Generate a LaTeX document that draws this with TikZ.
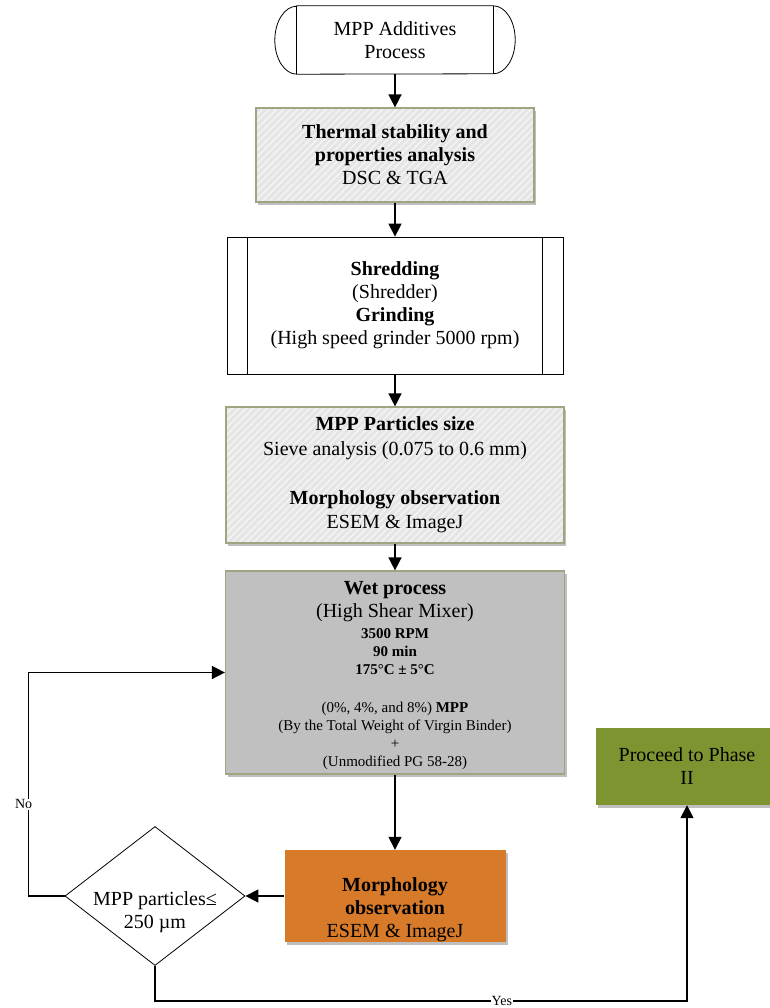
\documentclass[tikz,border=0pt]{standalone}
\usepackage{fontspec}
\setmainfont{Liberation Serif}
\usetikzlibrary{arrows.meta,shapes.geometric,shadows,patterns.meta}

\definecolor{edgeolive}{RGB}{160,164,128}
\definecolor{hatchgray}{RGB}{229,229,229}
\definecolor{hatchline}{RGB}{244,244,244}
\definecolor{wetgray}{RGB}{192,192,192}
\definecolor{morphorange}{RGB}{215,122,42}
\definecolor{phasegreen}{RGB}{126,148,48}

\tikzset{
  txt/.style={font=\fontsize{20}{23}\selectfont, align=center, inner sep=0pt},
  smalltxt/.style={font=\fontsize{15}{18}\selectfont, align=center, inner sep=0pt},
  tag/.style={font=\fontsize{14}{16}\selectfont, fill=white, inner sep=1pt},
  softshadow/.style={drop shadow={shadow xshift=2pt, shadow yshift=-3pt, opacity=0.25, fill=black}},
  hatchbox/.style={rectangle, draw=edgeolive, line width=1.2pt, fill=hatchgray, softshadow,
    postaction={pattern={Lines[angle=45,distance=5pt,line width=1.5pt]}, pattern color=hatchline},
    postaction={draw=edgeolive, line width=1.2pt}},
  plainbox/.style={rectangle, draw=black, line width=0.8pt, fill=white},
  conn/.style={line width=1.5pt, -{Triangle[width=13pt,length=13pt]}},
}

\begin{document}
\begin{tikzpicture}[x=1pt,y=-1pt]
  \fill[white] (0,0) rectangle (770,1008);
  \useasboundingbox (0,0) rectangle (770,1008);

  % start terminator
  \node (term) [txt, minimum width=196pt, minimum height=68pt] at (395,40) {MPP Additives\\Process};
  \draw[line width=0.8pt] (term.north west) -- (term.north east)
    arc[start angle=90, end angle=-90, x radius=22pt, y radius=34pt]
    -- (term.south west)
    arc[start angle=270, end angle=90, x radius=22pt, y radius=34pt] -- cycle;
  \draw[line width=0.8pt] (term.north west) -- (term.south west)
    (term.north east) -- (term.south east);

  % thermal analysis
  \node (prop) [hatchbox, txt, minimum width=278pt, minimum height=94pt] at (395,155)
    {\textbf{Thermal stability and}\\\textbf{properties analysis}\\DSC \& TGA};

  % shredding / grinding (predefined process)
  \node (shred) [plainbox, txt, minimum width=336pt, minimum height=137pt] at (395,305.5)
    {\textbf{Shredding}\\(Shredder)\\\textbf{Grinding}\\(High speed grinder 5000 rpm)};
  \draw[line width=0.8pt] ([xshift=21pt]shred.north west) -- ([xshift=21pt]shred.south west)
    ([xshift=-21pt]shred.north east) -- ([xshift=-21pt]shred.south east);

  % particle size
  \node (sieve) [hatchbox, txt, font=\fontsize{20}{24.5}\selectfont, minimum width=338pt, minimum height=136pt] at (395,475)
    {\textbf{MPP Particles size}\\Sieve analysis (0.075 to 0.6 mm)\\[24.5pt]\textbf{Morphology observation}\\ESEM \& ImageJ};

  % wet process
  \node (wet) [rectangle, draw=edgeolive, line width=1.2pt, fill=wetgray, softshadow,
    minimum width=339pt, minimum height=203pt] at (395,672.5) {};
  \node (wetA) [txt] at (395,602) {\textbf{Wet process}\\(High Shear Mixer)};
  \node (wetB) [smalltxt, font=\fontsize{15}{18}\selectfont\bfseries] at (395,652)
    {3500 RPM\\90 min\\175°C ± 5°C};
  \node (wetC) [smalltxt] at (395,735.5)
    {(0\%, 4\%, and 8\%) \textbf{MPP}\\(By the Total Weight of Virgin Binder)\\+\\(Unmodified PG 58-28)};

  % morphology check
  \node (morph) [rectangle, fill=morphorange, softshadow, minimum width=221pt, minimum height=92pt] at (395,896) {};
  \node (morphtxt) [txt] at (395,910) {\textbf{Morphology}\\\textbf{observation}\\ESEM \& ImageJ};

  % decision
  \node (dia) [diamond, draw=black, line width=0.8pt, fill=white, minimum width=180pt, minimum height=139pt, inner sep=0pt] at (155,896) {};
  \node (diatxt) [txt] at (155,912) {MPP particles≤\\250 µm};

  % next phase
  \node (phase) [rectangle, fill=phasegreen, softshadow, txt, minimum width=182pt, minimum height=77pt] at (687,766.5)
    {Proceed to Phase\\II};

  % connectors
  \draw[conn] (term) -- (prop);
  \draw[conn] (prop) -- (shred);
  \draw[conn] (shred) -- (sieve);
  \draw[conn] (sieve) -- (wet);
  \draw[conn] (wet) -- (morph);
  \draw[conn] (morph.west) -- (dia.east);
  \draw[conn] (dia.west) -- ++(-36,0) |- (wet.west)
    node[tag, pos=0.205, xshift=-5pt] {No};
  \draw[conn] (dia.south) -- ++(0,35) -| (phase.south)
    node[tag, pos=0.326] {Yes};
\end{tikzpicture}
\end{document}
